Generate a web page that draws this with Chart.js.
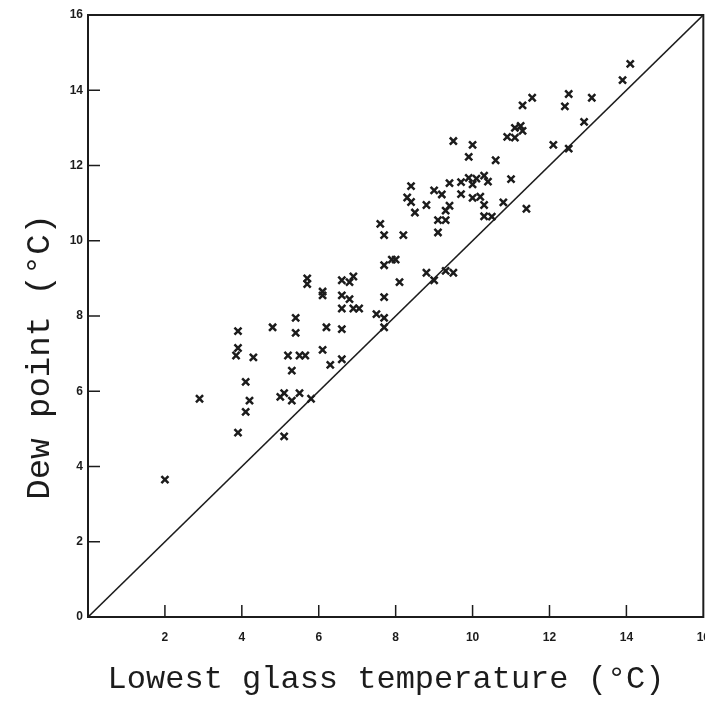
<!DOCTYPE html>
<html>
<head>
<meta charset="utf-8">
<script src="https://cdn.jsdelivr.net/npm/chart.js@4"></script>
<style>
  html, body { margin: 0; padding: 0; background: #fff; overflow: hidden; }
  canvas { display: block; }
</style>
</head>
<body>
<canvas id="dewChart" width="723" height="703"></canvas>
<script>
// lowest glass temperature (x) vs dew point (y), both in °C
const glassTemp = [
  2.0, 2.9, 3.9, 3.9, 3.9, 3.85, 4.3, 4.1, 4.2, 4.1, 4.8, 5.4, 5.4, 5.2, 5.5, 5.65, 5.3, 5.0, 5.1, 5.3, 5.5, 5.1, 5.8,
  6.1, 6.3, 6.6, 6.2, 6.6, 5.7, 5.7, 6.1, 6.1, 6.6, 6.8, 6.9, 6.6, 6.8, 6.6, 6.9, 7.05, 7.5, 7.7, 7.7, 7.7, 7.7,
  7.9, 8.0, 7.7, 8.2, 9.1, 8.1, 8.8, 9.0, 9.3, 9.5,
  9.5, 10.0, 9.9, 10.6, 10.9, 11.1, 11.1, 11.25, 11.3, 8.4, 8.3, 8.4, 8.5, 8.8, 9.0, 9.2, 9.4, 9.7, 9.9, 10.0,
  10.1, 10.3, 10.4, 11.0, 9.7, 10.0, 10.2, 10.3, 10.8, 11.4, 9.4, 9.3, 9.1, 9.3, 10.3, 10.5, 7.6,
  14.1, 13.9, 12.5, 13.1, 12.4, 12.9, 11.55, 11.3, 12.1, 12.5
];
const dewPoint = [
  3.65, 5.8, 4.9, 7.6, 7.15, 6.95, 6.9, 6.25, 5.75, 5.45, 7.7, 7.95, 7.55, 6.95, 6.95, 6.95, 6.55, 5.85, 5.95, 5.75, 5.95, 4.8, 5.8,
  7.1, 6.7, 6.85, 7.7, 7.65, 9.0, 8.85, 8.65, 8.55, 8.95, 8.9, 9.05, 8.55, 8.45, 8.2, 8.2, 8.2, 8.05, 7.95, 7.7, 8.5, 9.35,
  9.5, 9.5, 10.15, 10.15, 10.22, 8.9, 9.15, 8.95, 9.2, 9.15,
  12.65, 12.55, 12.23, 12.14, 12.76, 12.74, 13.0, 13.05, 12.92, 11.45, 11.15, 11.03, 10.75, 10.95, 11.34, 11.23, 11.53, 11.56, 11.67, 11.5,
  11.65, 11.73, 11.57, 11.64, 11.24, 11.14, 11.17, 10.95, 11.02, 10.85, 10.93, 10.8, 10.55, 10.55, 10.65, 10.64, 10.45,
  14.7, 14.27, 13.9, 13.8, 13.57, 13.16, 13.8, 13.6, 12.55, 12.45
];
// 1:1 line (dew point = glass temperature)
const lineX = [0, 16];
const xTickValues = [2, 4, 6, 8, 10, 12, 14, 16];
const yTickValues = [0, 2, 4, 6, 8, 10, 12, 14, 16];

const ink = '#1c1c1c';

// box around the plot and short tick marks pointing inwards
const frameAndTicks = {
  id: 'frameAndTicks',
  afterDatasetsDraw(chart) {
    const { ctx, chartArea: a, scales: { x, y } } = chart;
    ctx.save();
    ctx.strokeStyle = ink;
    ctx.lineWidth = 2;
    ctx.strokeRect(a.left, a.top, a.right - a.left, a.bottom - a.top);
    ctx.lineWidth = 1.5;
    ctx.beginPath();
    x.ticks.forEach((t) => {
      if (t.value <= 0 || t.value >= 16) return;
      const px = x.getPixelForValue(t.value);
      ctx.moveTo(px, a.bottom);
      ctx.lineTo(px, a.bottom - 12);
    });
    y.ticks.forEach((t) => {
      if (t.value <= 0 || t.value >= 16) return;
      const py = y.getPixelForValue(t.value);
      ctx.moveTo(a.left, py);
      ctx.lineTo(a.left + 12, py);
    });
    ctx.stroke();
    ctx.restore();
  }
};

const tickFont = { family: 'Liberation Sans', size: 12, weight: 'bold' };
const noGrid = { display: false, drawTicks: false, tickLength: 0 };

new Chart(document.getElementById('dewChart'), {
  type: 'scatter',
  data: {
    datasets: [{
      data: glassTemp.map((t, i) => ({ x: t, y: dewPoint[i] })),
      pointStyle: 'crossRot',
      pointRadius: 5,
      borderWidth: 2.5,
      borderColor: ink,
      backgroundColor: ink
    }, {
      data: lineX.map((v) => ({ x: v, y: v })),
      showLine: true,
      pointRadius: 0,
      borderWidth: 1.6,
      borderColor: ink
    }]
  },
  options: {
    responsive: false,
    animation: false,
    events: [],
    layout: { padding: { top: 15, right: 0, bottom: 0, left: 0 } },
    plugins: { legend: { display: false }, tooltip: { enabled: false } },
    scales: {
      x: {
        type: 'linear',
        min: 0,
        max: 16,
        afterBuildTicks: (s) => { s.ticks = xTickValues.map((v) => ({ value: v })); },
        afterFit: (s) => { s.height = 86; },
        grid: noGrid,
        border: { display: false },
        ticks: { color: ink, font: tickFont, padding: 13, maxRotation: 0 },
        title: {
          display: true,
          text: 'Lowest glass temperature (°C)\u00a0',
          color: ink,
          font: { family: 'Liberation Mono', size: 32 },
          padding: { top: 0, bottom: 4 }
        }
      },
      y: {
        type: 'linear',
        min: 0,
        max: 16,
        afterBuildTicks: (s) => { s.ticks = yTickValues.map((v) => ({ value: v })); },
        afterFit: (s) => { s.width = 88; },
        grid: noGrid,
        border: { display: false },
        ticks: { color: ink, font: tickFont, padding: 5 },
        title: {
          display: true,
          text: 'Dew point (°C)\u00a0\u00a0\u00a0\u00a0',
          color: ink,
          font: { family: 'Liberation Mono', size: 34 },
          padding: { top: 20, bottom: 0 }
        }
      }
    }
  },
  plugins: [frameAndTicks]
});
</script>
</body>
</html>
